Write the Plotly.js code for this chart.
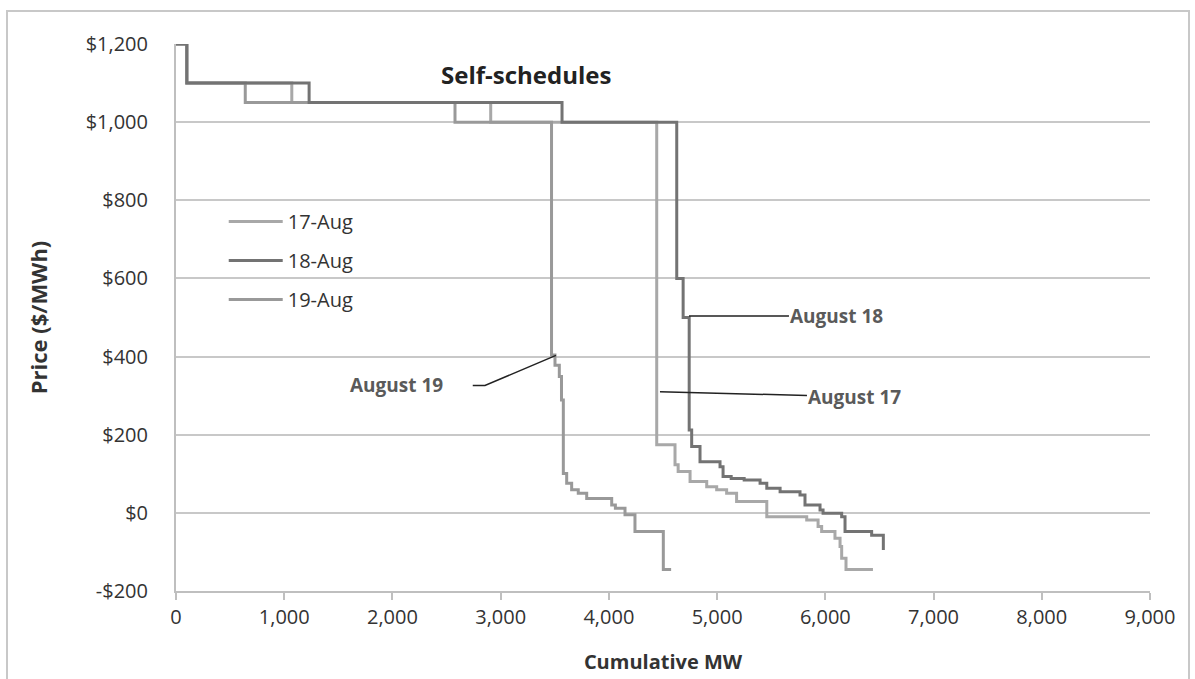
<!DOCTYPE html>
<html>
<head>
<meta charset="utf-8">
<script src="https://cdn.plot.ly/plotly-3.0.1.min.js"></script>
<style>
  html, body { margin: 0; padding: 0; background: #fff; }
  #wrap { position: relative; width: 1195px; height: 679px; overflow: hidden; }
  #chart { position: absolute; left: 0; top: 0; width: 1195px; height: 679px; }
  #frame { position: absolute; left: 6px; top: 10px; width: 1180px; height: 700px;
           border: 2px solid #c8c8c8; pointer-events: none; }
</style>
</head>
<body>
<div id="wrap">
  <div id="chart"></div>
  <div id="frame"></div>
</div>
<script>
// Cumulative MW at each step and price ($/MWh) after the step (step shape 'hv')
const seriesNames = ["17-Aug", "18-Aug", "19-Aug"];

const mwAug17 = [0, 100, 1070, 2908, 4442, 4611, 4640, 4750, 4904, 4996, 5088, 5180, 5459, 5828, 5933, 5966, 6089, 6136, 6151, 6191, 6440];
const priceAug17 = [1200, 1100, 1050, 1000, 174, 123, 106, 80, 67, 59, 50, 29, -10, -18, -35, -48, -65, -86, -116, -145, -145];

const mwAug18 = [0, 100, 1230, 3567, 4627, 4686, 4742, 4765, 4842, 5027, 5055, 5130, 5250, 5397, 5459, 5582, 5766, 5812, 5951, 5979, 6151, 6182, 6428, 6536];
const priceAug18 = [1200, 1100, 1050, 1000, 600, 500, 212, 170, 131, 118, 93, 88, 84, 76, 63, 54, 46, 20, 7, -1, -10, -48, -57, -95];

const mwAug19 = [0, 100, 640, 2578, 3470, 3502, 3542, 3562, 3579, 3610, 3656, 3717, 3795, 4026, 4060, 4149, 4241, 4503, 4575];
const priceAug19 = [1200, 1100, 1050, 1000, 404, 378, 349, 289, 101, 76, 59, 50, 37, 20, 12, -5, -48, -145, -145];

const yTickVals = [-200, 0, 200, 400, 600, 800, 1000, 1200];
const yTickText = ["-$200", "$0", "$200", "$400", "$600", "$800", "$1,000", "$1,200"];
const xTickVals = [0, 1000, 2000, 3000, 4000, 5000, 6000, 7000, 8000, 9000];

const FONT = "Open Sans";

const traces = [
  { x: mwAug17, y: priceAug17, name: seriesNames[0], type: "scatter", mode: "lines",
    line: { shape: "hv", color: "#a8a8a8", width: 3 }, legendrank: 1, legendgroup: "a" },
  { x: mwAug19, y: priceAug19, name: seriesNames[2], type: "scatter", mode: "lines",
    line: { shape: "hv", color: "#999999", width: 3 }, legendrank: 3, legendgroup: "c" },
  { x: mwAug18, y: priceAug18, name: seriesNames[1], type: "scatter", mode: "lines",
    line: { shape: "hv", color: "#737373", width: 3 }, legendrank: 2, legendgroup: "b" }
];

const labelFont = { family: FONT, size: 19, color: "#5a5a5a", weight: "bold" };

const layout = {
  width: 1195, height: 679,
  margin: { l: 176, r: 45, t: 44, b: 88 },
  paper_bgcolor: "rgba(0,0,0,0)",
  plot_bgcolor: "#ffffff",
  font: { family: FONT, color: "#404040", size: 20 },
  showlegend: true,
  legend: {
    x: 0.049, y: 0.711, xanchor: "left", yanchor: "top",
    bgcolor: "rgba(0,0,0,0)", borderwidth: 0,
    font: { family: FONT, size: 20, color: "#333333" },
    itemwidth: 54, tracegroupgap: 10,
    traceorder: "grouped"
  },
  xaxis: {
    range: [0, 9000], tickvals: xTickVals, tickformat: ",",
    showgrid: false, zeroline: false,
    showline: true, linecolor: "#bfbfbf", linewidth: 2,
    ticks: "outside", ticklen: 7, tickcolor: "#bfbfbf", tickwidth: 2,
    tickfont: { family: FONT, size: 20, color: "#333333" },
    title: { text: "Cumulative MW", font: { family: FONT, size: 20, color: "#333333", weight: "bold" }, standoff: 26 },
    fixedrange: true
  },
  yaxis: {
    range: [-200, 1200], tickvals: yTickVals, ticktext: yTickText,
    showgrid: true, gridcolor: "#c8c8c8", gridwidth: 2,
    zeroline: false,
    showline: true, linecolor: "#bfbfbf", linewidth: 2,
    ticks: "", ticklabelstandoff: 22,
    tickfont: { family: FONT, size: 20, color: "#333333" },
    title: { text: "Price ($/MWh)", font: { family: FONT, size: 22, color: "#333333", weight: "bold" }, standoff: 32 },
    fixedrange: true
  },
  annotations: [
    { text: "Self-schedules", x: 3234, y: 1123, xref: "x", yref: "y", showarrow: false,
      font: { family: FONT, size: 24, color: "#222222", weight: "bold" } },
    { text: "August 18", x: 4740, y: 504, xref: "x", yref: "y",
      showarrow: true, arrowhead: 0, arrowwidth: 1.5, arrowcolor: "#222222",
      ax: 148, ay: 0, font: labelFont },
    { text: "August 17", x: 4472, y: 310, xref: "x", yref: "y",
      showarrow: true, arrowhead: 0, arrowwidth: 1.5, arrowcolor: "#222222",
      ax: 195, ay: 5, font: labelFont },
    { text: "August 19", x: 2040, y: 326, xref: "x", yref: "y", showarrow: false,
      font: labelFont }
  ],
  shapes: [
    { type: "path", xref: "x", yref: "y",
      path: "M2742,326 L2855,326 L3511,403",
      line: { color: "#222222", width: 1.5 } }
  ]
};

Plotly.newPlot("chart", traces, layout, { displayModeBar: false, staticPlot: true });
</script>
</body>
</html>
